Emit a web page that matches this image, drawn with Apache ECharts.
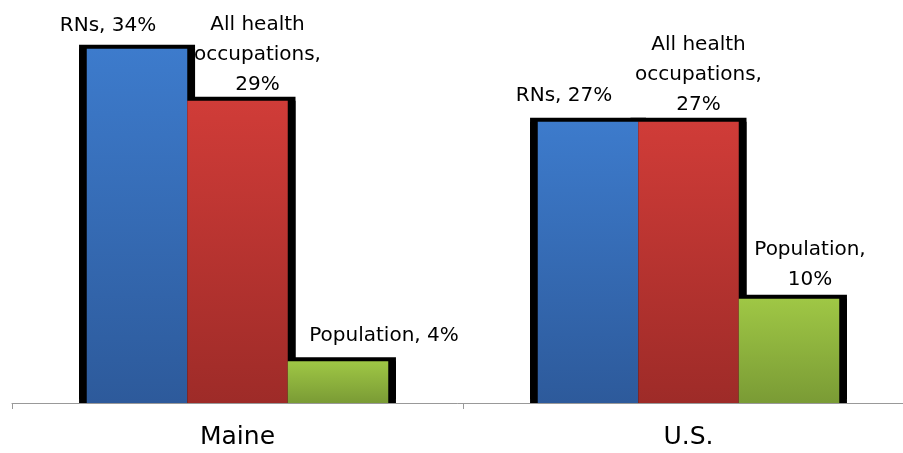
<!DOCTYPE html>
<html>
<head>
<meta charset="utf-8">
<script src="https://cdn.jsdelivr.net/npm/echarts@6/dist/echarts.min.js"></script>
<style>
  html, body { margin: 0; padding: 0; background: #fff; }
  #chart { width: 903px; height: 453px; }
</style>
</head>
<body>
<div id="chart"></div>
<script>
// data (percent)
const categories = ['Maine', 'U.S.'];
const seriesNames = ['RNs', 'All health\noccupations', 'Population'];
const rnShare = [34, 27];
const healthShare = [29, 27];
const popShare = [4, 10];

// label layout (manually placed in the original)
const labelBreaks = [[' ', ' '], ['\n', '\n'], [' ', '\n']];
const labelOffsets = [
  [[-29, -8], [-24, -11]],
  [[20, -1], [10, -2]],
  [[46, -11], [21, -4]]
];

const fills = [
  ['#3d7bcc', '#2d5a9b'],
  ['#d03c38', '#9e2b28'],
  ['#9fc745', '#7a9b35']
];

const chart = echarts.init(document.getElementById('chart'));
const values = [rnShare, healthShare, popShare];

// black frames behind the coloured bars
const frameSeries = values.map((vals, s) => ({
  type: 'bar',
  name: seriesNames[s] + ' frame',
  xAxisIndex: 1,
  barWidth: 116,
  barGap: '-13.4%',
  z: 1,
  silent: true,
  itemStyle: {
    color: '#000',
    shadowColor: '#000',
    shadowBlur: 0,
    shadowOffsetY: -4
  },
  data: vals
}));

const barSeries = values.map((vals, s) => ({
  type: 'bar',
  name: seriesNames[s],
  xAxisIndex: 0,
  barWidth: 100.5,
  barGap: '0%',
  z: 3,
  itemStyle: {
    color: new echarts.graphic.LinearGradient(0, 0, 0, 1, [
      { offset: 0, color: fills[s][0] },
      { offset: 1, color: fills[s][1] }
    ])
  },
  label: {
    show: true,
    position: 'top',
    distance: 0,
    color: '#000',
    fontSize: 20,
    lineHeight: 30,
    fontFamily: 'DejaVu Sans',
    align: 'center',
    formatter: p => seriesNames[s] + ',' + labelBreaks[s][p.dataIndex] + p.value + '%'
  },
  data: vals.map((v, i) => ({ value: v, label: { offset: labelOffsets[s][i] } }))
}));

const option = {
  animation: false,
  grid: {
    left: 12,
    right: -11,
    top: 7,
    bottom: 50,
    outerBoundsMode: 'none'
  },
  xAxis: [
    {
      type: 'category',
      data: categories,
      axisLine: { lineStyle: { color: '#999', width: 1 } },
      axisTick: { show: true, length: 6, lineStyle: { color: '#999' } },
      axisLabel: {
        margin: 22,
        color: '#000',
        fontSize: 25,
        fontFamily: 'DejaVu Sans'
      }
    },
    {
      type: 'category',
      data: categories,
      show: false
    }
  ],
  yAxis: {
    type: 'value',
    min: 0,
    max: 38,
    show: false
  },
  series: frameSeries.concat(barSeries)
};

chart.setOption(option);
window.addEventListener('resize', () => {
  chart.resize();
});
</script>
</body>
</html>
